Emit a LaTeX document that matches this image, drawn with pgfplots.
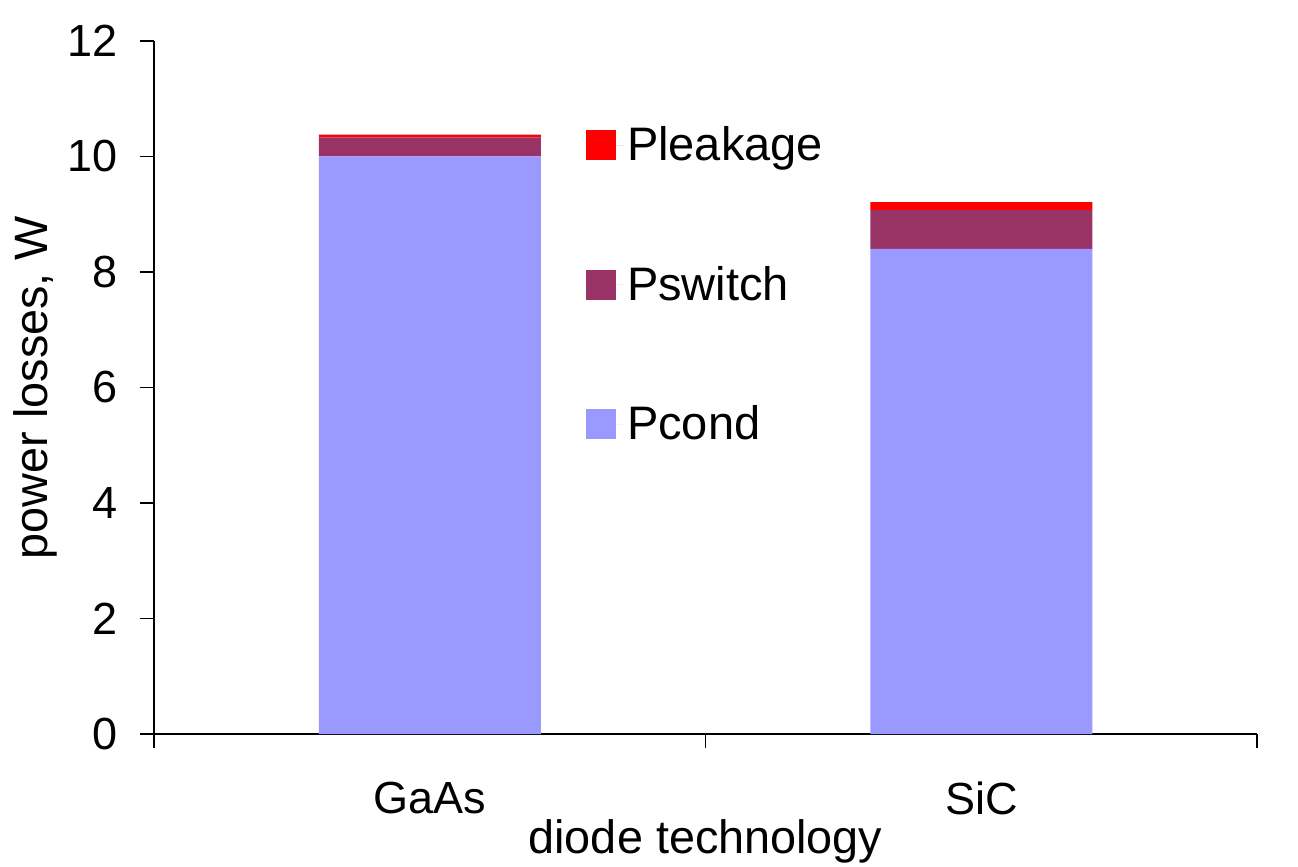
\documentclass[border=0pt]{standalone}
\usepackage{pgfplots}
\pgfplotsset{compat=1.18}
\usepackage{fontspec}
\setmainfont{Liberation Sans}
\definecolor{cond}{HTML}{9999FF}
\definecolor{sw}{HTML}{993366}
\definecolor{leak}{HTML}{FF0000}
\begin{document}
\begin{tikzpicture}
\begin{axis}[
  name=ax,
  scale only axis,
  width=551.5pt, height=346.5pt,
  xmin=-0.5, xmax=1.5,
  ymin=0, ymax=12,
  axis lines*=left,
  axis line style={line width=0.7pt, black},
  tick style={line width=0.7pt, black},
  tick align=outside,
  major tick length=7pt,
  minor tick length=7pt,
  xtick={0,1},
  xticklabels={GaAs,SiC},
  major x tick style={draw=none},
  minor xtick={-0.5,0.5,1.5},
  ytick={0,2,4,6,8,10,12},
  /pgf/number format/assume math mode=true,
  tick label style={font=\fontsize{22.5}{27}\selectfont},
  yticklabel style={xshift=-7.5pt},
  xticklabel style={yshift=-13.5pt},
  ybar stacked,
  bar width=111pt,
  bar shift=0pt,
  xlabel={diode technology},
  ylabel={power losses, W},
  label style={font=\fontsize{23.4}{28}\selectfont},
  xlabel style={at={(axis description cs:0.5,0)}, anchor=base, yshift=-59.5pt},
  ylabel style={at={(axis description cs:0,0.5)}, anchor=center, yshift=59.5pt},
  legend style={draw=none, fill=none, at={(0.3917,0.882)}, anchor=north west,
    font=\fontsize{23.5}{28}\selectfont, row sep=47.25pt, inner sep=0pt, outer sep=0pt,
    nodes={inner sep=2pt}},
  legend cell align=left,
  reverse legend,
  legend image code/.code={\fill[#1] (0pt,-7.5pt) rectangle (15pt,7.5pt);
    \path (0pt,0pt) -- (18.5pt,0pt);},
]
\addplot[fill=cond, draw=none] coordinates {(0,10.0) (1,8.40)};
\addplot[fill=sw, draw=none] coordinates {(0,0.33) (1,0.67)};
\addplot[fill=leak, draw=none] coordinates {(0,0.05) (1,0.14)};
\legend{Pcond,Pswitch,Pleakage}
\coordinate (ll) at (rel axis cs:0,0);
\coordinate (ur) at (rel axis cs:1,1);
\end{axis}
\pgfresetboundingbox
\path ([shift={(-77pt,-66pt)}]ll) rectangle ([shift={(20.5pt,20.5pt)}]ur);
\end{tikzpicture}
\end{document}
